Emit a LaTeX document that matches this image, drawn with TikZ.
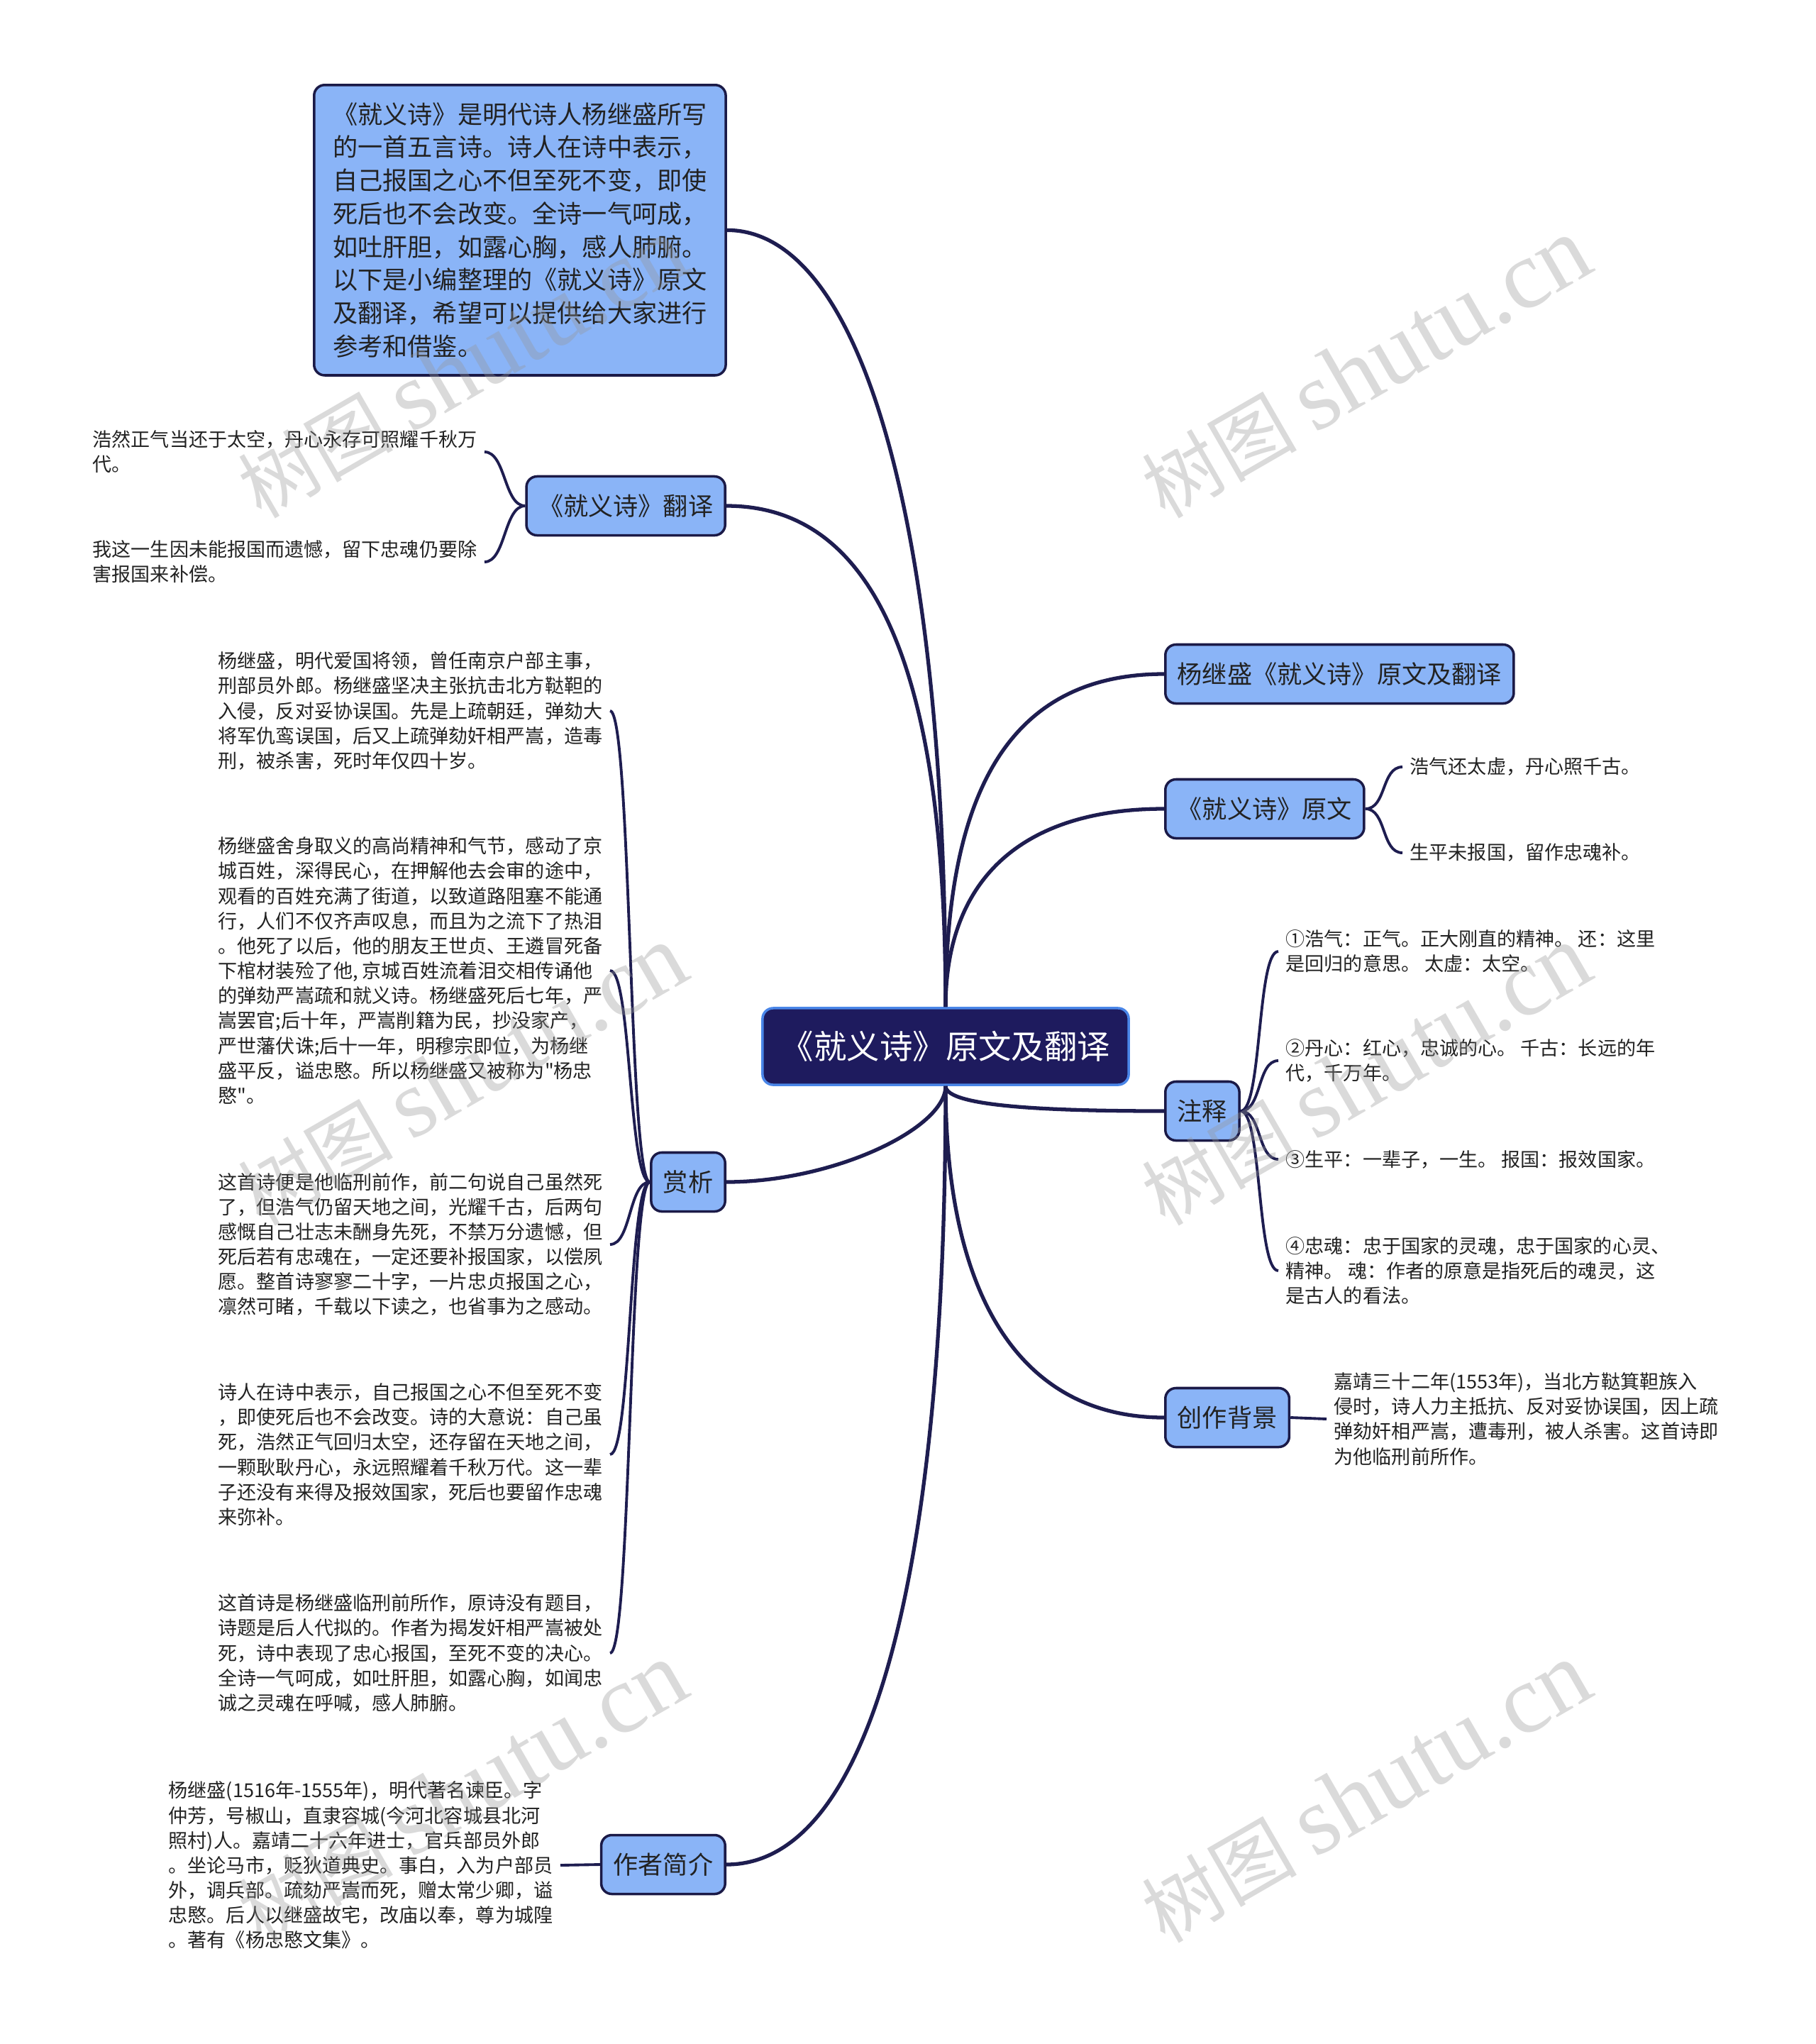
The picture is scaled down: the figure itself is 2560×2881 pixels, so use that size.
\documentclass[tikz,border=0pt]{standalone}
\usepackage{fontspec}
\setmainfont{Noto Sans CJK SC}
\newfontfamily\qfont{Noto Sans CJK SC}
\newfontfamily\wmfont{Liberation Serif}
\usetikzlibrary{positioning, calc}
\definecolor{boxfill}{HTML}{8AB4F7}
\definecolor{boxline}{HTML}{1B1A47}
\definecolor{rootfill}{HTML}{1E1B5E}
\definecolor{rootline}{HTML}{4A86E8}
\definecolor{linkcol}{HTML}{1E1D50}
\definecolor{txtcol}{HTML}{222222}
\definecolor{wmcol}{RGB}{150,150,150}
\newcommand{\wmtext}{{\fontsize{31}{31}\selectfont 树图}\hspace{0.7em}{\wmfont\fontsize{39}{39}\selectfont shutu.cn}}

\begin{document}
\begin{tikzpicture}[x=0.01cm, y=-0.01cm,
    rootbox/.style={draw=rootline, line width=1pt, fill=rootfill, rounded corners=0.15cm, text=white, font=\fontsize{13.2}{16}\selectfont, inner xsep=0.26cm, minimum height=1.08cm},
    topic/.style={draw=boxline, line width=1pt, fill=boxfill, rounded corners=0.15cm, text=txtcol, font=\fontsize{10}{13.3}\selectfont, inner xsep=0.17cm, minimum height=0.83cm},
    leaf/.style={text=txtcol, font=\fontsize{7.7}{10}\selectfont, align=left, inner xsep=0.1cm, inner ysep=0.05cm},
    branch/.style={draw=linkcol, line width=1.5pt},
    twig/.style={draw=linkcol, line width=1.1pt},
    wmark/.style={text=wmcol, opacity=0.35, rotate=30}
  ]
  \useasboundingbox (0,0) rectangle (2560,2881);

  % centre
  \node[rootbox] (root) at (1333,1475) {《就义诗》原文及翻译};

  % left side
  \node[topic, align=left, anchor=north west, minimum width=5.8cm, minimum height=4.09cm] (intro) at (441,118)
    {《就义诗》是明代诗人杨继盛所写\\的一首五言诗。诗人在诗中表示，\\自己报国之心不但至死不变，即使\\死后也不会改变。全诗一气呵成，\\如吐肝胆，如露心胸，感人肺腑。\\以下是小编整理的《就义诗》原文\\及翻译，希望可以提供给大家进行\\参考和借鉴。};
  \node[topic, anchor=east] (trans) at (1024,713) {《就义诗》翻译};
  \node[topic, anchor=east] (appre) at (1024,1666) {赏析};
  \node[topic, anchor=east] (author) at (1024,2628) {作者简介};

  \node[leaf, anchor=west] (tr1) at (120,637) {浩然正气当还于太空，丹心永存可照耀千秋万\\代。};
  \node[leaf, anchor=west] (tr2) at (120,792) {我这一生因未能报国而遗憾，留下忠魂仍要除\\害报国来补偿。};

  \node[leaf, anchor=west] (app1) at (297,1002) {杨继盛，明代爱国将领，曾任南京户部主事，\\刑部员外郎。杨继盛坚决主张抗击北方鞑靼的\\入侵，反对妥协误国。先是上疏朝廷，弹劾大\\将军仇鸾误国，后又上疏弹劾奸相严嵩，造毒\\刑，被杀害，死时年仅四十岁。};
  \node[leaf, anchor=west] (app2) at (297,1368) {杨继盛舍身取义的高尚精神和气节，感动了京\\城百姓，深得民心，在押解他去会审的途中，\\观看的百姓充满了街道，以致道路阻塞不能通\\行，人们不仅齐声叹息，而且为之流下了热泪\\。他死了以后，他的朋友王世贞、王遴冒死备\\下棺材装殓了他, 京城百姓流着泪交相传诵他\\的弹劾严嵩疏和就义诗。杨继盛死后七年，严\\嵩罢官;后十年，严嵩削籍为民，抄没家产，\\严世藩伏诛;后十一年，明穆宗即位，为杨继\\盛平反，谥忠愍。所以杨继盛又被称为{\qfont"}杨忠\\愍{\qfont"}。};
  \node[leaf, anchor=west] (app3) at (297,1754) {这首诗便是他临刑前作，前二句说自己虽然死\\了，但浩气仍留天地之间，光耀千古，后两句\\感慨自己壮志未酬身先死，不禁万分遗憾，但\\死后若有忠魂在，一定还要补报国家，以偿夙\\愿。整首诗寥寥二十字，一片忠贞报国之心，\\凛然可睹，千载以下读之，也省事为之感动。};
  \node[leaf, anchor=west] (app4) at (297,2050) {诗人在诗中表示，自己报国之心不但至死不变\\，即使死后也不会改变。诗的大意说：自己虽\\死，浩然正气回归太空，还存留在天地之间，\\一颗耿耿丹心，永远照耀着千秋万代。这一辈\\子还没有来得及报效国家，死后也要留作忠魂\\来弥补。};
  \node[leaf, anchor=west] (app5) at (297,2330) {这首诗是杨继盛临刑前所作，原诗没有题目，\\诗题是后人代拟的。作者为揭发奸相严嵩被处\\死，诗中表现了忠心报国，至死不变的决心。\\全诗一气呵成，如吐肝胆，如露心胸，如闻忠\\诚之灵魂在呼喊，感人肺腑。};

  \node[leaf, anchor=west] (auth1) at (227,2629) {杨继盛(1516年-1555年)，明代著名谏臣。字\\仲芳，号椒山，直隶容城(今河北容城县北河\\照村)人。嘉靖二十六年进士，官兵部员外郎\\。坐论马市，贬狄道典史。事白，入为户部员\\外，调兵部。疏劾严嵩而死，赠太常少卿，谥\\忠愍。后人以继盛故宅，改庙以奉，尊为城隍\\。著有《杨忠愍文集》。};

  % right side
  \node[topic, anchor=west] (title) at (1641,950) {杨继盛《就义诗》原文及翻译};
  \node[topic, anchor=west] (orig) at (1641,1140) {《就义诗》原文};
  \node[topic, anchor=west] (notes) at (1641,1566) {注释};
  \node[topic, anchor=west] (bg) at (1641,1998) {创作背景};

  \node[leaf, anchor=west] (orig1) at (1977,1081) {浩气还太虚，丹心照千古。};
  \node[leaf, anchor=west] (orig2) at (1977,1202) {生平未报国，留作忠魂补。};

  \node[leaf, anchor=west] (note1) at (1802,1341) {①浩气：正气。正大刚直的精神。 还：这里\\是回归的意思。 太虚：太空。};
  \node[leaf, anchor=west] (note2) at (1802,1495) {②丹心：红心，忠诚的心。 千古：长远的年\\代，千万年。};
  \node[leaf, anchor=west] (note3) at (1802,1634) {③生平：一辈子，一生。 报国：报效国家。};
  \node[leaf, anchor=west] (note4) at (1802,1791) {④忠魂：忠于国家的灵魂，忠于国家的心灵、\\精神。 魂：作者的原意是指死后的魂灵，这\\是古人的看法。};

  \node[leaf, anchor=west] (bg1) at (1870,2000) {嘉靖三十二年(1553年)，当北方鞑箕靼族入\\侵时，诗人力主抵抗、反对妥协误国，因上疏\\弹劾奸相严嵩，遭毒刑，被人杀害。这首诗即\\为他临刑前所作。};

  % main branches
  \draw[branch] (root.north) to[out=90, in=0, out distance=6.8cm, in distance=1.9cm] (intro.east);
  \draw[branch] (root.north) to[out=90, in=0, out distance=4.5cm, in distance=2.2cm] (trans.east);
  \draw[branch] (root.south) to[out=-90, in=0, out distance=0.6cm, in distance=1.5cm] (appre.east);
  \draw[branch] (root.south) to[out=-90, in=0, out distance=7cm, in distance=2cm] (author.east);
  \draw[branch] (root.north) to[out=90, in=180, out distance=3cm, in distance=2.2cm] (title.west);
  \draw[branch] (root.north) to[out=90, in=180, out distance=1.8cm, in distance=2cm] (orig.west);
  \draw[branch] (root.south) to[out=-90, in=180, out distance=0.3cm, in distance=1.5cm] (notes.west);
  \draw[branch] (root.south) to[out=-90, in=180, out distance=3cm, in distance=2cm] (bg.west);

  % sub branches
  \draw[twig] (trans.west) to[out=180, in=0, out distance=0.3cm, in distance=0.3cm] (tr1.east);
  \draw[twig] (trans.west) to[out=180, in=0, out distance=0.3cm, in distance=0.3cm] (tr2.east);
  \draw[twig] (appre.west) to[out=180, in=0, out distance=0.3cm, in distance=0.3cm] (app1.east);
  \draw[twig] (appre.west) to[out=180, in=0, out distance=0.3cm, in distance=0.3cm] (app2.east);
  \draw[twig] (appre.west) to[out=180, in=0, out distance=0.3cm, in distance=0.3cm] (app3.east);
  \draw[twig] (appre.west) to[out=180, in=0, out distance=0.3cm, in distance=0.3cm] (app4.east);
  \draw[twig] (appre.west) to[out=180, in=0, out distance=0.3cm, in distance=0.3cm] (app5.east);
  \draw[twig] (author.west) -- (auth1.east);
  \draw[twig] (orig.east) to[out=0, in=180, out distance=0.3cm, in distance=0.3cm] (orig1.west);
  \draw[twig] (orig.east) to[out=0, in=180, out distance=0.3cm, in distance=0.3cm] (orig2.west);
  \draw[twig] (notes.east) to[out=0, in=180, out distance=0.3cm, in distance=0.3cm] (note1.west);
  \draw[twig] (notes.east) to[out=0, in=180, out distance=0.3cm, in distance=0.3cm] (note2.west);
  \draw[twig] (notes.east) to[out=0, in=180, out distance=0.3cm, in distance=0.3cm] (note3.west);
  \draw[twig] (notes.east) to[out=0, in=180, out distance=0.3cm, in distance=0.3cm] (note4.west);
  \draw[twig] (bg.east) -- (bg1.west);

  % watermarks
  \node[wmark] (wm1) at (652,519) {\wmtext};
  \node[wmark] (wm2) at (1926,519) {\wmtext};
  \node[wmark] (wm3) at (652,1516) {\wmtext};
  \node[wmark] (wm4) at (1926,1516) {\wmtext};
  \node[wmark] (wm5) at (652,2527) {\wmtext};
  \node[wmark] (wm6) at (1926,2527) {\wmtext};
\end{tikzpicture}
\end{document}
